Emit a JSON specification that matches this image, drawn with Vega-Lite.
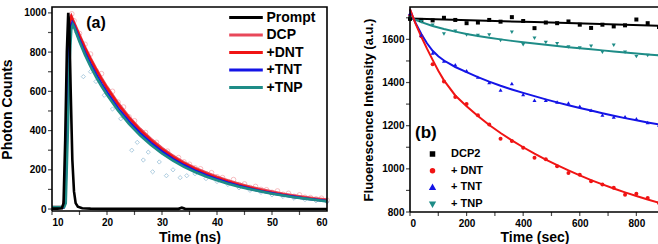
{
  "$schema": "https://vega.github.io/schema/vega-lite/v6.json",
  "padding": {"left": 0, "top": 3, "right": 0, "bottom": 0},
  "background": "white",
  "spacing": 29,
  "config": {
    "font": "Liberation Sans",
    "view": {"stroke": null},
    "axis": {
      "grid": false,
      "domain": false,
      "ticks": false,
      "labelFont": "Liberation Sans",
      "labelFontWeight": "bold",
      "labelFontSize": 10,
      "labelColor": "black",
      "labelPadding": 6,
      "titleFont": "Liberation Sans",
      "titleFontWeight": "bold",
      "titleFontSize": 14,
      "titleColor": "black"
    },
    "legend": {
      "labelFont": "Liberation Sans",
      "labelFontWeight": "bold",
      "labelColor": "black",
      "padding": 0
    }
  },
  "resolve": {"scale": {"color": "independent", "shape": "independent", "fill": "independent"}, "legend": {"color": "independent", "shape": "independent", "fill": "independent"}},
  "datasets": {
    "curves": [
      {"s": "DCP", "t": 10, "v": 10}, {"s": "DCP", "t": 12, "v": 10}, {"s": "DCP", "t": 12.3, "v": 60}, {"s": "DCP", "t": 12.7, "v": 520}, {"s": "DCP", "t": 13, "v": 870}, {"s": "DCP", "t": 13.3, "v": 975}, {"s": "DCP", "t": 13.5, "v": 986},
      {"s": "DCP", "t": 14, "v": 952}, {"s": "DCP", "t": 15, "v": 888}, {"s": "DCP", "t": 16, "v": 826}, {"s": "DCP", "t": 17, "v": 770}, {"s": "DCP", "t": 18, "v": 717}, {"s": "DCP", "t": 19, "v": 668}, {"s": "DCP", "t": 20, "v": 623}, {"s": "DCP", "t": 22, "v": 541}, {"s": "DCP", "t": 24, "v": 470}, {"s": "DCP", "t": 26, "v": 409}, {"s": "DCP", "t": 28, "v": 357}, {"s": "DCP", "t": 30, "v": 311}, {"s": "DCP", "t": 32, "v": 271}, {"s": "DCP", "t": 34, "v": 238}, {"s": "DCP", "t": 36, "v": 210}, {"s": "DCP", "t": 38, "v": 186}, {"s": "DCP", "t": 40, "v": 165}, {"s": "DCP", "t": 42, "v": 146}, {"s": "DCP", "t": 44, "v": 129}, {"s": "DCP", "t": 46, "v": 114}, {"s": "DCP", "t": 48, "v": 101}, {"s": "DCP", "t": 50, "v": 89}, {"s": "DCP", "t": 52, "v": 78}, {"s": "DCP", "t": 54, "v": 69}, {"s": "DCP", "t": 56, "v": 61}, {"s": "DCP", "t": 58, "v": 54}, {"s": "DCP", "t": 60, "v": 48},
      {"s": "+DNT", "t": 10, "v": 8}, {"s": "+DNT", "t": 12, "v": 8}, {"s": "+DNT", "t": 12.3, "v": 50}, {"s": "+DNT", "t": 12.7, "v": 500}, {"s": "+DNT", "t": 13, "v": 850}, {"s": "+DNT", "t": 13.3, "v": 965}, {"s": "+DNT", "t": 13.5, "v": 980},
      {"s": "+DNT", "t": 14, "v": 946}, {"s": "+DNT", "t": 15, "v": 881}, {"s": "+DNT", "t": 16, "v": 819}, {"s": "+DNT", "t": 17, "v": 763}, {"s": "+DNT", "t": 18, "v": 710}, {"s": "+DNT", "t": 19, "v": 661}, {"s": "+DNT", "t": 20, "v": 616}, {"s": "+DNT", "t": 22, "v": 534}, {"s": "+DNT", "t": 24, "v": 463}, {"s": "+DNT", "t": 26, "v": 402}, {"s": "+DNT", "t": 28, "v": 350}, {"s": "+DNT", "t": 30, "v": 304}, {"s": "+DNT", "t": 32, "v": 265}, {"s": "+DNT", "t": 34, "v": 232}, {"s": "+DNT", "t": 36, "v": 204}, {"s": "+DNT", "t": 38, "v": 180}, {"s": "+DNT", "t": 40, "v": 159}, {"s": "+DNT", "t": 42, "v": 140}, {"s": "+DNT", "t": 44, "v": 123}, {"s": "+DNT", "t": 46, "v": 108}, {"s": "+DNT", "t": 48, "v": 95}, {"s": "+DNT", "t": 50, "v": 83}, {"s": "+DNT", "t": 52, "v": 73}, {"s": "+DNT", "t": 54, "v": 64}, {"s": "+DNT", "t": 56, "v": 56}, {"s": "+DNT", "t": 58, "v": 49}, {"s": "+DNT", "t": 60, "v": 43},
      {"s": "+TNT", "t": 10, "v": 8}, {"s": "+TNT", "t": 12.1, "v": 8}, {"s": "+TNT", "t": 12.4, "v": 40}, {"s": "+TNT", "t": 12.8, "v": 460}, {"s": "+TNT", "t": 13.1, "v": 800}, {"s": "+TNT", "t": 13.4, "v": 925}, {"s": "+TNT", "t": 13.7, "v": 950},
      {"s": "+TNT", "t": 14, "v": 935}, {"s": "+TNT", "t": 15, "v": 862}, {"s": "+TNT", "t": 16, "v": 797}, {"s": "+TNT", "t": 17, "v": 739}, {"s": "+TNT", "t": 18, "v": 686}, {"s": "+TNT", "t": 19, "v": 638}, {"s": "+TNT", "t": 20, "v": 594}, {"s": "+TNT", "t": 22, "v": 514}, {"s": "+TNT", "t": 24, "v": 446}, {"s": "+TNT", "t": 26, "v": 387}, {"s": "+TNT", "t": 28, "v": 337}, {"s": "+TNT", "t": 30, "v": 293}, {"s": "+TNT", "t": 32, "v": 255}, {"s": "+TNT", "t": 34, "v": 223}, {"s": "+TNT", "t": 36, "v": 196}, {"s": "+TNT", "t": 38, "v": 172}, {"s": "+TNT", "t": 40, "v": 152}, {"s": "+TNT", "t": 42, "v": 134}, {"s": "+TNT", "t": 44, "v": 118}, {"s": "+TNT", "t": 46, "v": 104}, {"s": "+TNT", "t": 48, "v": 91}, {"s": "+TNT", "t": 50, "v": 80}, {"s": "+TNT", "t": 52, "v": 70}, {"s": "+TNT", "t": 54, "v": 62}, {"s": "+TNT", "t": 56, "v": 54}, {"s": "+TNT", "t": 58, "v": 47}, {"s": "+TNT", "t": 60, "v": 41},
      {"s": "+TNP", "t": 10, "v": 10}, {"s": "+TNP", "t": 12.2, "v": 10}, {"s": "+TNP", "t": 12.5, "v": 30}, {"s": "+TNP", "t": 12.9, "v": 420}, {"s": "+TNP", "t": 13.2, "v": 760}, {"s": "+TNP", "t": 13.5, "v": 915}, {"s": "+TNP", "t": 13.8, "v": 940},
      {"s": "+TNP", "t": 14, "v": 928}, {"s": "+TNP", "t": 15, "v": 853}, {"s": "+TNP", "t": 16, "v": 786}, {"s": "+TNP", "t": 17, "v": 727}, {"s": "+TNP", "t": 18, "v": 674}, {"s": "+TNP", "t": 19, "v": 626}, {"s": "+TNP", "t": 20, "v": 582}, {"s": "+TNP", "t": 22, "v": 502}, {"s": "+TNP", "t": 24, "v": 434}, {"s": "+TNP", "t": 26, "v": 376}, {"s": "+TNP", "t": 28, "v": 326}, {"s": "+TNP", "t": 30, "v": 283}, {"s": "+TNP", "t": 32, "v": 247}, {"s": "+TNP", "t": 34, "v": 215}, {"s": "+TNP", "t": 36, "v": 189}, {"s": "+TNP", "t": 38, "v": 166}, {"s": "+TNP", "t": 40, "v": 147}, {"s": "+TNP", "t": 42, "v": 129}, {"s": "+TNP", "t": 44, "v": 114}, {"s": "+TNP", "t": 46, "v": 101}, {"s": "+TNP", "t": 48, "v": 89}, {"s": "+TNP", "t": 50, "v": 78}, {"s": "+TNP", "t": 52, "v": 69}, {"s": "+TNP", "t": 54, "v": 60}, {"s": "+TNP", "t": 56, "v": 53}, {"s": "+TNP", "t": 58, "v": 46}, {"s": "+TNP", "t": 60, "v": 39},
      {"s": "Prompt", "t": 10, "v": 2}, {"s": "Prompt", "t": 11, "v": 2}, {"s": "Prompt", "t": 11.8, "v": 4}, {"s": "Prompt", "t": 12.1, "v": 30}, {"s": "Prompt", "t": 12.4, "v": 350}, {"s": "Prompt", "t": 12.7, "v": 800}, {"s": "Prompt", "t": 12.95, "v": 1000}, {"s": "Prompt", "t": 13.15, "v": 930}, {"s": "Prompt", "t": 13.4, "v": 600}, {"s": "Prompt", "t": 13.7, "v": 250}, {"s": "Prompt", "t": 14, "v": 90}, {"s": "Prompt", "t": 14.3, "v": 30}, {"s": "Prompt", "t": 14.7, "v": 12}, {"s": "Prompt", "t": 15.5, "v": 4}, {"s": "Prompt", "t": 17, "v": 2}, {"s": "Prompt", "t": 20, "v": 1}, {"s": "Prompt", "t": 25, "v": 1}, {"s": "Prompt", "t": 30, "v": 1}, {"s": "Prompt", "t": 33, "v": 1}, {"s": "Prompt", "t": 33.6, "v": 7}, {"s": "Prompt", "t": 34.2, "v": 1}, {"s": "Prompt", "t": 40, "v": 0}, {"s": "Prompt", "t": 50, "v": 0}, {"s": "Prompt", "t": 60, "v": 0}
    ],
    "pinkpts": [
      {"t": 13.6, "v": 995}, {"t": 14, "v": 960}, {"t": 15, "v": 895}, {"t": 16, "v": 840}, {"t": 17, "v": 790}, {"t": 18, "v": 705}, {"t": 19, "v": 690}, {"t": 20, "v": 610}, {"t": 21, "v": 600}, {"t": 22, "v": 545}, {"t": 23, "v": 520}, {"t": 24, "v": 470}, {"t": 25, "v": 450}, {"t": 26, "v": 400}, {"t": 27, "v": 390}, {"t": 28, "v": 345}, {"t": 29, "v": 340}, {"t": 30, "v": 300}, {"t": 31, "v": 295}, {"t": 32, "v": 265}, {"t": 33, "v": 262}, {"t": 34, "v": 240}, {"t": 35, "v": 228}, {"t": 36, "v": 210}, {"t": 37, "v": 205}, {"t": 38, "v": 180}, {"t": 39, "v": 185}, {"t": 40, "v": 165}, {"t": 41, "v": 160}, {"t": 42, "v": 140}, {"t": 43, "v": 150}, {"t": 44, "v": 125}, {"t": 45, "v": 128}, {"t": 46, "v": 110}, {"t": 47, "v": 115}, {"t": 48, "v": 100}, {"t": 49, "v": 98}, {"t": 50, "v": 85}, {"t": 51, "v": 92}, {"t": 52, "v": 75}, {"t": 53, "v": 80}, {"t": 54, "v": 65}, {"t": 55, "v": 72}, {"t": 56, "v": 60}, {"t": 57, "v": 58}, {"t": 58, "v": 52}, {"t": 59, "v": 55}, {"t": 60, "v": 45}
    ],
    "bluepts": [
      {"t": 14.5, "v": 900}, {"t": 15.7, "v": 675}, {"t": 17, "v": 700}, {"t": 18, "v": 650}, {"t": 19.5, "v": 580}, {"t": 21, "v": 510}, {"t": 22.5, "v": 460}, {"t": 24.5, "v": 300}, {"t": 25.5, "v": 340}, {"t": 26.6, "v": 250}, {"t": 27.5, "v": 290}, {"t": 28.3, "v": 190}, {"t": 29.5, "v": 240}, {"t": 30.8, "v": 170}, {"t": 32, "v": 200}, {"t": 33.3, "v": 160}, {"t": 34.5, "v": 170}, {"t": 36, "v": 180}, {"t": 38, "v": 155}, {"t": 40, "v": 140}, {"t": 42, "v": 125}, {"t": 44, "v": 108}, {"t": 46, "v": 95}, {"t": 48, "v": 85}, {"t": 50, "v": 72}, {"t": 52, "v": 64}, {"t": 54, "v": 55}, {"t": 56, "v": 48}, {"t": 58, "v": 42}, {"t": 60, "v": 36}
    ],
    "frameA": [
      {"i": 0, "t": 10, "v": -10}, {"i": 1, "t": 60, "v": -10}, {"i": 2, "t": 60, "v": 1030}, {"i": 3, "t": 10, "v": 1030}, {"i": 4, "t": 10, "v": -10}
    ],
    "frameB": [
      {"i": 0, "t": 0, "v": 800}, {"i": 1, "t": 880, "v": 800}, {"i": 2, "t": 880, "v": 1750}, {"i": 3, "t": 0, "v": 1750}, {"i": 4, "t": 0, "v": 800}
    ],
    "ticksAx": [{"t": 10}, {"t": 15}, {"t": 20}, {"t": 25}, {"t": 30}, {"t": 35}, {"t": 40}, {"t": 45}, {"t": 50}, {"t": 55}],
    "ticksAy": [{"v": 0}, {"v": 100}, {"v": 200}, {"v": 300}, {"v": 400}, {"v": 500}, {"v": 600}, {"v": 700}, {"v": 800}, {"v": 900}, {"v": 1000}],
    "ticksBx": [{"t": 0}, {"t": 100}, {"t": 200}, {"t": 300}, {"t": 400}, {"t": 500}, {"t": 600}, {"t": 700}, {"t": 800}],
    "ticksBy": [{"v": 800}, {"v": 900}, {"v": 1000}, {"v": 1100}, {"v": 1200}, {"v": 1300}, {"v": 1400}, {"v": 1500}, {"v": 1600}, {"v": 1700}],
    "fits": [
      {"fit": "DCP2", "t": 0, "v": 1697}, {"fit": "DCP2", "t": 440, "v": 1680}, {"fit": "DCP2", "t": 880, "v": 1663},
      {"fit": "+ TNP", "t": 0, "v": 1700}, {"fit": "+ TNP", "t": 40, "v": 1680}, {"fit": "+ TNP", "t": 80, "v": 1662}, {"fit": "+ TNP", "t": 120, "v": 1648}, {"fit": "+ TNP", "t": 160, "v": 1636}, {"fit": "+ TNP", "t": 200, "v": 1625}, {"fit": "+ TNP", "t": 240, "v": 1616}, {"fit": "+ TNP", "t": 280, "v": 1608}, {"fit": "+ TNP", "t": 320, "v": 1600}, {"fit": "+ TNP", "t": 360, "v": 1593}, {"fit": "+ TNP", "t": 400, "v": 1587}, {"fit": "+ TNP", "t": 440, "v": 1581}, {"fit": "+ TNP", "t": 480, "v": 1575}, {"fit": "+ TNP", "t": 520, "v": 1569}, {"fit": "+ TNP", "t": 560, "v": 1564}, {"fit": "+ TNP", "t": 600, "v": 1559}, {"fit": "+ TNP", "t": 640, "v": 1554}, {"fit": "+ TNP", "t": 680, "v": 1549}, {"fit": "+ TNP", "t": 720, "v": 1544}, {"fit": "+ TNP", "t": 760, "v": 1539}, {"fit": "+ TNP", "t": 800, "v": 1535}, {"fit": "+ TNP", "t": 840, "v": 1530}, {"fit": "+ TNP", "t": 880, "v": 1526},
      {"fit": "+ TNT", "t": 0, "v": 1738}, {"fit": "+ TNT", "t": 10, "v": 1703}, {"fit": "+ TNT", "t": 20, "v": 1675}, {"fit": "+ TNT", "t": 40, "v": 1625}, {"fit": "+ TNT", "t": 60, "v": 1582}, {"fit": "+ TNT", "t": 80, "v": 1547}, {"fit": "+ TNT", "t": 100, "v": 1522}, {"fit": "+ TNT", "t": 120, "v": 1502}, {"fit": "+ TNT", "t": 160, "v": 1472}, {"fit": "+ TNT", "t": 200, "v": 1448}, {"fit": "+ TNT", "t": 240, "v": 1425}, {"fit": "+ TNT", "t": 280, "v": 1404}, {"fit": "+ TNT", "t": 320, "v": 1385}, {"fit": "+ TNT", "t": 360, "v": 1368}, {"fit": "+ TNT", "t": 400, "v": 1352}, {"fit": "+ TNT", "t": 440, "v": 1337}, {"fit": "+ TNT", "t": 480, "v": 1322}, {"fit": "+ TNT", "t": 520, "v": 1308}, {"fit": "+ TNT", "t": 560, "v": 1295}, {"fit": "+ TNT", "t": 600, "v": 1282}, {"fit": "+ TNT", "t": 640, "v": 1270}, {"fit": "+ TNT", "t": 680, "v": 1258}, {"fit": "+ TNT", "t": 720, "v": 1246}, {"fit": "+ TNT", "t": 760, "v": 1235}, {"fit": "+ TNT", "t": 800, "v": 1225}, {"fit": "+ TNT", "t": 840, "v": 1215}, {"fit": "+ TNT", "t": 880, "v": 1206},
      {"fit": "+ DNT", "t": 0, "v": 1740}, {"fit": "+ DNT", "t": 10, "v": 1705}, {"fit": "+ DNT", "t": 20, "v": 1672}, {"fit": "+ DNT", "t": 40, "v": 1612}, {"fit": "+ DNT", "t": 60, "v": 1557}, {"fit": "+ DNT", "t": 80, "v": 1505}, {"fit": "+ DNT", "t": 100, "v": 1455}, {"fit": "+ DNT", "t": 120, "v": 1410}, {"fit": "+ DNT", "t": 160, "v": 1340}, {"fit": "+ DNT", "t": 200, "v": 1290}, {"fit": "+ DNT", "t": 240, "v": 1245}, {"fit": "+ DNT", "t": 280, "v": 1203}, {"fit": "+ DNT", "t": 320, "v": 1166}, {"fit": "+ DNT", "t": 360, "v": 1132}, {"fit": "+ DNT", "t": 400, "v": 1100}, {"fit": "+ DNT", "t": 440, "v": 1070}, {"fit": "+ DNT", "t": 480, "v": 1043}, {"fit": "+ DNT", "t": 520, "v": 1017}, {"fit": "+ DNT", "t": 560, "v": 993}, {"fit": "+ DNT", "t": 600, "v": 970}, {"fit": "+ DNT", "t": 640, "v": 948}, {"fit": "+ DNT", "t": 680, "v": 928}, {"fit": "+ DNT", "t": 720, "v": 909}, {"fit": "+ DNT", "t": 760, "v": 891}, {"fit": "+ DNT", "t": 800, "v": 874}, {"fit": "+ DNT", "t": 840, "v": 858}, {"fit": "+ DNT", "t": 880, "v": 843}
    ],
    "pts": [
      {"s": "DCP2", "t": 0, "v": 1695}, {"s": "DCP2", "t": 40, "v": 1690}, {"s": "DCP2", "t": 80, "v": 1688}, {"s": "DCP2", "t": 120, "v": 1700}, {"s": "DCP2", "t": 160, "v": 1690}, {"s": "DCP2", "t": 200, "v": 1675}, {"s": "DCP2", "t": 240, "v": 1678}, {"s": "DCP2", "t": 280, "v": 1690}, {"s": "DCP2", "t": 320, "v": 1682}, {"s": "DCP2", "t": 360, "v": 1703}, {"s": "DCP2", "t": 400, "v": 1685}, {"s": "DCP2", "t": 440, "v": 1652}, {"s": "DCP2", "t": 480, "v": 1678}, {"s": "DCP2", "t": 520, "v": 1675}, {"s": "DCP2", "t": 560, "v": 1683}, {"s": "DCP2", "t": 600, "v": 1668}, {"s": "DCP2", "t": 640, "v": 1653}, {"s": "DCP2", "t": 680, "v": 1668}, {"s": "DCP2", "t": 720, "v": 1660}, {"s": "DCP2", "t": 760, "v": 1665}, {"s": "DCP2", "t": 800, "v": 1692}, {"s": "DCP2", "t": 840, "v": 1675}, {"s": "DCP2", "t": 880, "v": 1657},
      {"s": "+ DNT", "t": 0, "v": 1710}, {"s": "+ DNT", "t": 40, "v": 1615}, {"s": "+ DNT", "t": 80, "v": 1485}, {"s": "+ DNT", "t": 120, "v": 1405}, {"s": "+ DNT", "t": 160, "v": 1333}, {"s": "+ DNT", "t": 200, "v": 1300}, {"s": "+ DNT", "t": 240, "v": 1248}, {"s": "+ DNT", "t": 280, "v": 1206}, {"s": "+ DNT", "t": 320, "v": 1140}, {"s": "+ DNT", "t": 360, "v": 1129}, {"s": "+ DNT", "t": 400, "v": 1098}, {"s": "+ DNT", "t": 440, "v": 1051}, {"s": "+ DNT", "t": 480, "v": 1045}, {"s": "+ DNT", "t": 520, "v": 1012}, {"s": "+ DNT", "t": 560, "v": 981}, {"s": "+ DNT", "t": 600, "v": 973}, {"s": "+ DNT", "t": 640, "v": 943}, {"s": "+ DNT", "t": 680, "v": 927}, {"s": "+ DNT", "t": 720, "v": 912}, {"s": "+ DNT", "t": 760, "v": 880}, {"s": "+ DNT", "t": 800, "v": 885}, {"s": "+ DNT", "t": 840, "v": 865}, {"s": "+ DNT", "t": 880, "v": 842},
      {"s": "+ TNT", "t": 0, "v": 1720}, {"s": "+ TNT", "t": 40, "v": 1620}, {"s": "+ TNT", "t": 80, "v": 1537}, {"s": "+ TNT", "t": 120, "v": 1500}, {"s": "+ TNT", "t": 160, "v": 1482}, {"s": "+ TNT", "t": 200, "v": 1455}, {"s": "+ TNT", "t": 240, "v": 1425}, {"s": "+ TNT", "t": 280, "v": 1400}, {"s": "+ TNT", "t": 320, "v": 1365}, {"s": "+ TNT", "t": 360, "v": 1395}, {"s": "+ TNT", "t": 400, "v": 1345}, {"s": "+ TNT", "t": 440, "v": 1318}, {"s": "+ TNT", "t": 480, "v": 1318}, {"s": "+ TNT", "t": 520, "v": 1310}, {"s": "+ TNT", "t": 560, "v": 1305}, {"s": "+ TNT", "t": 600, "v": 1290}, {"s": "+ TNT", "t": 640, "v": 1272}, {"s": "+ TNT", "t": 680, "v": 1250}, {"s": "+ TNT", "t": 720, "v": 1240}, {"s": "+ TNT", "t": 760, "v": 1242}, {"s": "+ TNT", "t": 800, "v": 1232}, {"s": "+ TNT", "t": 840, "v": 1215}, {"s": "+ TNT", "t": 880, "v": 1203},
      {"s": "+ TNP", "t": 0, "v": 1700}, {"s": "+ TNP", "t": 40, "v": 1682}, {"s": "+ TNP", "t": 80, "v": 1665}, {"s": "+ TNP", "t": 120, "v": 1625}, {"s": "+ TNP", "t": 160, "v": 1638}, {"s": "+ TNP", "t": 200, "v": 1620}, {"s": "+ TNP", "t": 240, "v": 1618}, {"s": "+ TNP", "t": 280, "v": 1620}, {"s": "+ TNP", "t": 320, "v": 1595}, {"s": "+ TNP", "t": 360, "v": 1633}, {"s": "+ TNP", "t": 400, "v": 1575}, {"s": "+ TNP", "t": 440, "v": 1605}, {"s": "+ TNP", "t": 480, "v": 1585}, {"s": "+ TNP", "t": 520, "v": 1580}, {"s": "+ TNP", "t": 560, "v": 1565}, {"s": "+ TNP", "t": 600, "v": 1560}, {"s": "+ TNP", "t": 640, "v": 1568}, {"s": "+ TNP", "t": 680, "v": 1540}, {"s": "+ TNP", "t": 720, "v": 1573}, {"s": "+ TNP", "t": 760, "v": 1540}, {"s": "+ TNP", "t": 800, "v": 1520}, {"s": "+ TNP", "t": 840, "v": 1525}, {"s": "+ TNP", "t": 880, "v": 1522}
    ]
  },
  "hconcat": [
    {
      "width": 275,
      "height": 204,
      "layer": [
        {
          "data": {"name": "pinkpts"},
          "mark": {"type": "point", "shape": "circle", "filled": false, "color": "#f08a90", "size": 22, "strokeWidth": 0.8},
          "encoding": {
            "x": {"field": "t", "type": "quantitative", "scale": {"domain": [10, 60], "nice": false, "zero": false},
              "axis": {"title": "Time (ns)", "titlePadding": 3, "values": [10, 20, 30, 40, 50, 60]}},
            "y": {"field": "v", "type": "quantitative", "scale": {"domain": [-10, 1030], "nice": false, "zero": false},
              "axis": {"title": "Photon Counts", "titlePadding": 9, "format": "d", "values": [0, 200, 400, 600, 800, 1000]}}
          }
        },
        {
          "data": {"name": "bluepts"},
          "mark": {"type": "point", "shape": "diamond", "filled": false, "color": "#6ea6c8", "size": 18, "strokeWidth": 0.8},
          "encoding": {
            "x": {"field": "t", "type": "quantitative"},
            "y": {"field": "v", "type": "quantitative"}
          }
        },
        {
          "data": {"name": "curves"},
          "mark": {"type": "line", "strokeWidth": 2.6},
          "encoding": {
            "x": {"field": "t", "type": "quantitative"},
            "y": {"field": "v", "type": "quantitative"},
            "order": {"field": "t"},
            "color": {"field": "s", "type": "nominal",
              "scale": {"domain": ["Prompt", "DCP", "+DNT", "+TNT", "+TNP"], "range": ["#000000", "#e8485a", "#f01414", "#1414e6", "#1e8c87"]},
              "legend": {"title": null, "orient": "none", "legendX": 185.5, "legendY": 2, "symbolType": "M-2.4,0H2.4", "symbolSize": 196, "symbolStrokeWidth": 3, "labelFontSize": 14, "rowPadding": 1.5, "labelOffset": 12}}
          }
        },
        {
          "data": {"values": [{"label": "(a)"}]},
          "mark": {"type": "text", "font": "Liberation Sans", "fontWeight": "bold", "fontSize": 16, "align": "center", "baseline": "middle", "color": "black"},
          "encoding": {"text": {"field": "label"}, "x": {"datum": 18}, "y": {"datum": 949}}
        },
        {
          "data": {"name": "frameA"},
          "mark": {"type": "line", "color": "#000000", "strokeWidth": 1.6},
          "encoding": {"x": {"field": "t", "type": "quantitative"}, "y": {"field": "v", "type": "quantitative"}, "order": {"field": "i"}}
        },
        {
          "data": {"name": "ticksAx"},
          "mark": {"type": "point", "shape": "M0,0L0,1", "filled": false, "color": "#000000", "strokeWidth": 1.2, "size": 64},
          "encoding": {"x": {"field": "t", "type": "quantitative"}, "y": {"datum": -10}}
        },
        {
          "data": {"name": "ticksAy"},
          "mark": {"type": "point", "shape": "M0,0L-1,0", "filled": false, "color": "#000000", "strokeWidth": 1.2, "size": 64},
          "encoding": {"x": {"datum": 10}, "y": {"field": "v", "type": "quantitative"}}
        }
      ]
    },
    {
      "width": 249,
      "height": 205,
      "layer": [
        {
          "data": {"name": "fits"},
          "mark": {"type": "line", "strokeWidth": 2},
          "encoding": {
            "x": {"field": "t", "type": "quantitative", "scale": {"domain": [0, 880], "nice": false, "zero": false},
              "axis": {"title": "Time (sec)", "titlePadding": 2, "values": [0, 200, 400, 600, 800]}},
            "y": {"field": "v", "type": "quantitative", "scale": {"domain": [800, 1750], "nice": false, "zero": false},
              "axis": {"title": "Fluoerescence Intensity (a.u.)", "titleFontSize": 13, "titlePadding": 6, "format": "d", "values": [800, 1000, 1200, 1400, 1600]}},
            "order": {"field": "t"},
            "color": {"field": "fit", "type": "nominal", "scale": {"domain": ["DCP2", "+ DNT", "+ TNT", "+ TNP"], "range": ["#000000", "#f01414", "#1414e6", "#1e8c87"]},
              "legend": {"title": null, "orient": "none", "legendX": 17, "legendY": 141.5, "symbolType": "square", "symbolSize": 9, "symbolStrokeWidth": 2.5, "labelFontSize": 11, "rowPadding": 3.7, "labelOffset": 13}}
          }
        },
        {
          "data": {"name": "pts"},
          "mark": {"type": "point", "filled": true, "size": 16, "opacity": 1},
          "encoding": {
            "x": {"field": "t", "type": "quantitative"},
            "y": {"field": "v", "type": "quantitative"},
            "fill": {"field": "s", "type": "nominal", "scale": {"domain": ["DCP2", "+ DNT", "+ TNT", "+ TNP"], "range": ["#000000", "#f01414", "#1414e6", "#1e8c87"]}, "legend": null},
            "shape": {"field": "s", "type": "nominal", "scale": {"domain": ["DCP2", "+ DNT", "+ TNT", "+ TNP"], "range": ["square", "circle", "triangle-up", "triangle-down"]}, "legend": null}
          }
        },
        {
          "data": {"values": [{"label": "(b)"}]},
          "mark": {"type": "text", "font": "Liberation Sans", "fontWeight": "bold", "fontSize": 17, "align": "center", "baseline": "middle", "color": "black"},
          "encoding": {"text": {"field": "label"}, "x": {"datum": 56}, "y": {"datum": 1166}}
        },
        {
          "data": {"name": "frameB"},
          "mark": {"type": "line", "color": "#000000", "strokeWidth": 1.6},
          "encoding": {"x": {"field": "t", "type": "quantitative"}, "y": {"field": "v", "type": "quantitative"}, "order": {"field": "i"}}
        },
        {
          "data": {"name": "ticksBx"},
          "mark": {"type": "point", "shape": "M0,0L0,1", "filled": false, "color": "#000000", "strokeWidth": 1.2, "size": 64},
          "encoding": {"x": {"field": "t", "type": "quantitative"}, "y": {"datum": 800}}
        },
        {
          "data": {"name": "ticksBy"},
          "mark": {"type": "point", "shape": "M0,0L-1,0", "filled": false, "color": "#000000", "strokeWidth": 1.2, "size": 64},
          "encoding": {"x": {"datum": 0}, "y": {"field": "v", "type": "quantitative"}}
        }
      ]
    }
  ]
}
